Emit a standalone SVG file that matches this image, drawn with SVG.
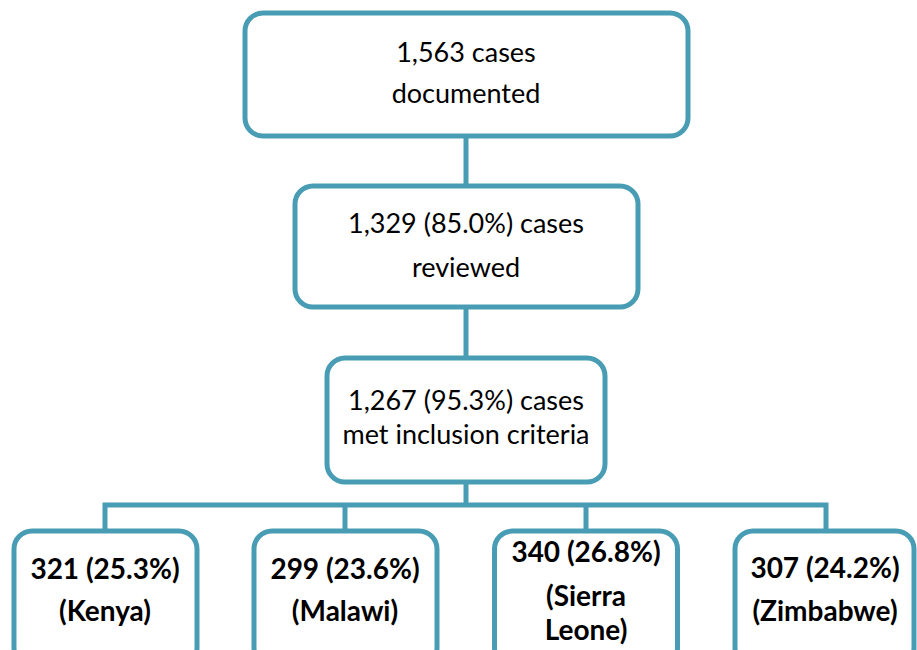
<svg xmlns="http://www.w3.org/2000/svg" width="917" height="650" viewBox="0 0 917 650">
<style>
.box{fill:#ffffff;stroke:#489db5;stroke-width:5}
.conn{fill:none;stroke:#489db5;stroke-width:5}
.t{font-family:Lato,"Open Sans","Liberation Sans",sans-serif;font-size:27px;fill:#000;text-anchor:middle}
.b{font-family:Lato,"Open Sans","Liberation Sans",sans-serif;font-size:28px;font-weight:bold;fill:#000;text-anchor:middle}
</style>
<rect width="917" height="650" fill="#ffffff"/>
<g id="connectors">
<path class="conn" d="M466 136 V186"/>
<path class="conn" d="M466 307 V358"/>
<path class="conn" d="M466 482 V505"/>
<path class="conn" d="M105 531 V505 H826 V531"/>
<path class="conn" d="M345 505 V531"/>
<path class="conn" d="M586 505 V531"/>
</g>
<g id="n1">
<rect class="box" x="245" y="13" width="443" height="123" rx="18"/>
<text class="t" x="466" y="62">1,563 cases</text>
<text class="t" x="466" y="103">documented</text>
</g>
<g id="n2">
<rect class="box" x="295" y="186" width="343" height="121" rx="18"/>
<text class="t" x="466" y="233">1,329 (85.0%) cases</text>
<text class="t" x="466" y="277">reviewed</text>
</g>
<g id="n3">
<rect class="box" x="327" y="358" width="278" height="124" rx="18"/>
<text class="t" x="466" y="410">1,267 (95.3%) cases</text>
<text class="t" x="466" y="444">met inclusion criteria</text>
</g>
<g id="kenya">
<rect class="box" x="14" y="531" width="183" height="135" rx="18"/>
<text class="b" x="105" y="579">321 (25.3%)</text>
<text class="b" x="105" y="621">(Kenya)</text>
</g>
<g id="malawi">
<rect class="box" x="254" y="531" width="183" height="135" rx="18"/>
<text class="b" x="345" y="579">299 (23.6%)</text>
<text class="b" x="345" y="621">(Malawi)</text>
</g>
<g id="sierra">
<rect class="box" x="494.5" y="531" width="183" height="135" rx="18"/>
<text class="b" x="586" y="562">340 (26.8%)</text>
<text class="b" x="586" y="606">(Sierra</text>
<text class="b" x="586" y="640">Leone)</text>
</g>
<g id="zimbabwe">
<rect class="box" x="735" y="531" width="179" height="135" rx="18"/>
<text class="b" x="825" y="578">307 (24.2%)</text>
<text class="b" x="825" y="621">(Zimbabwe)</text>
</g>
</svg>
